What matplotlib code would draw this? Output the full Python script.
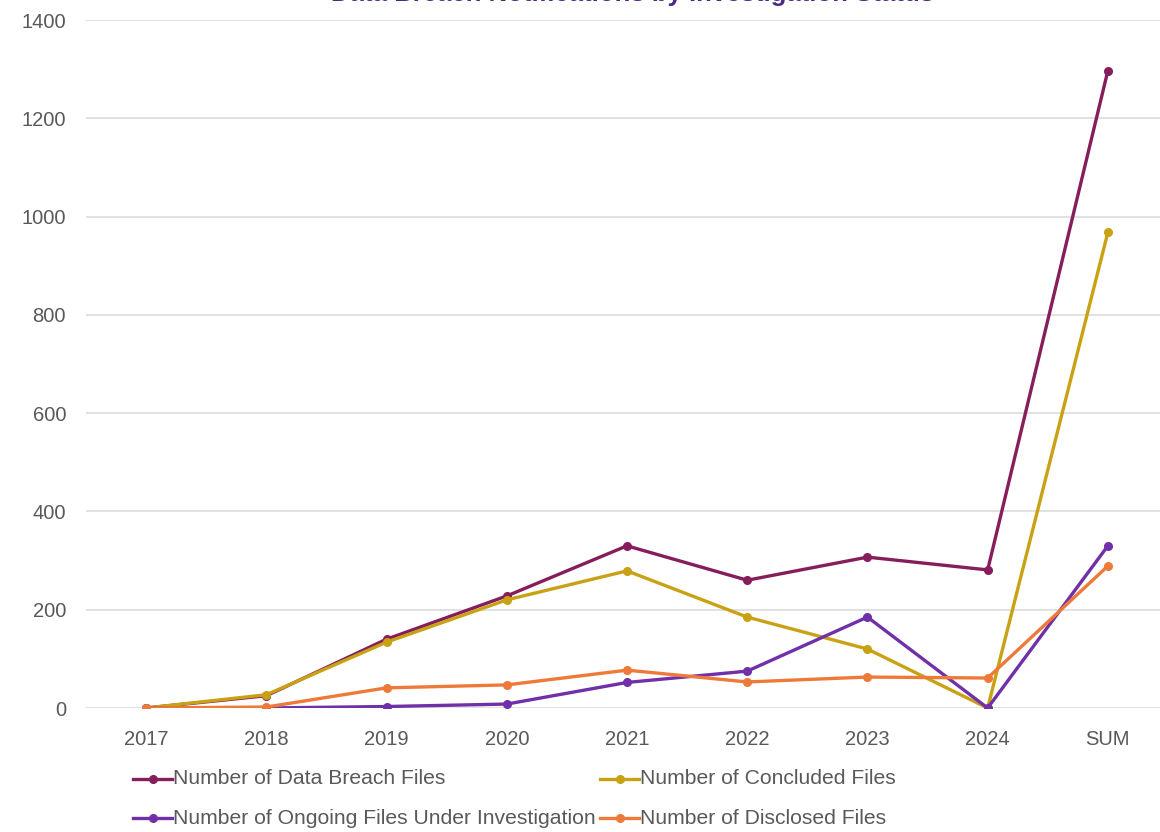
import matplotlib
matplotlib.use("Agg")
import matplotlib.pyplot as plt
from matplotlib.lines import Line2D

categories = ["2017", "2018", "2019", "2020", "2021", "2022", "2023", "2024", "SUM"]
data_breach = [0, 25, 140, 228, 330, 260, 307, 281, 1297]
concluded = [0, 27, 134, 220, 279, 185, 120, 0, 968]
ongoing = [0, 0, 3, 8, 52, 75, 185, 0, 330]
disclosed = [0, 2, 41, 47, 77, 53, 63, 61, 289]

series_names = [
    "Number of Data Breach Files",
    "Number of Concluded Files",
    "Number of Ongoing Files Under Investigation",
    "Number of Disclosed Files",
]
series_colors = ["#861E5C", "#C9A214", "#7030A8", "#EE7A3A"]
series_values = [data_breach, concluded, ongoing, disclosed]

plt.rcParams["font.family"] = ["Liberation Sans", "DejaVu Sans"]

fig = plt.figure(figsize=(11.6, 8.32), dpi=100)
ax = fig.add_axes([86 / 1160, 124 / 832, 1082 / 1160, 688 / 832])

x = list(range(len(categories)))
for vals, col in zip(series_values, series_colors):
    ax.plot(x, vals, color=col, lw=2.4, marker="o", ms=5.5, zorder=3,
            solid_joinstyle="round")

ax.set_xlim(-0.5, 8.5)
ax.set_ylim(0, 1400)
ax.set_yticks(range(0, 1401, 200))
ax.set_xticks(x)
ax.set_xticklabels(categories)
ax.grid(axis="y", color="#D9D9D9", lw=1.1, zorder=0)
ax.grid(axis="x", visible=False)
for s in ax.spines.values():
    s.set_visible(False)
ax.tick_params(axis="both", length=0, labelsize=14.5, labelcolor="#595959")
ax.tick_params(axis="y", pad=14.4)
ax.tick_params(axis="x", pad=16)

# Chart title sits at the very top edge of the canvas
fig.text(0.545, 1 - 0.5 / 832, "Data Breach Notifications by Investigation Status",
         ha="center", va="baseline", fontsize=18.5, fontweight="bold",
         color="#4B2A86")

leg_font = {"family": ["Liberation Sans", "DejaVu Sans"], "size": 15.2}
positions = [(133, 779), (600, 779), (133, 818), (600, 818)]
for col, name, (px, py) in zip(series_colors, series_names, positions):
    fy = 1 - py / 832
    fig.lines.append(Line2D([px / 1160, (px + 39) / 1160], [fy, fy],
                            transform=fig.transFigure, color=col, lw=2.4))
    fig.lines.append(Line2D([(px + 19.5) / 1160], [fy], transform=fig.transFigure,
                            color=col, marker="o", ms=5.5, lw=0))
    fig.text((px + 40) / 1160, fy, name, ha="left", va="center",
             color="#595959", fontdict=leg_font)

fig.savefig("out.png", dpi=100, facecolor="white")
